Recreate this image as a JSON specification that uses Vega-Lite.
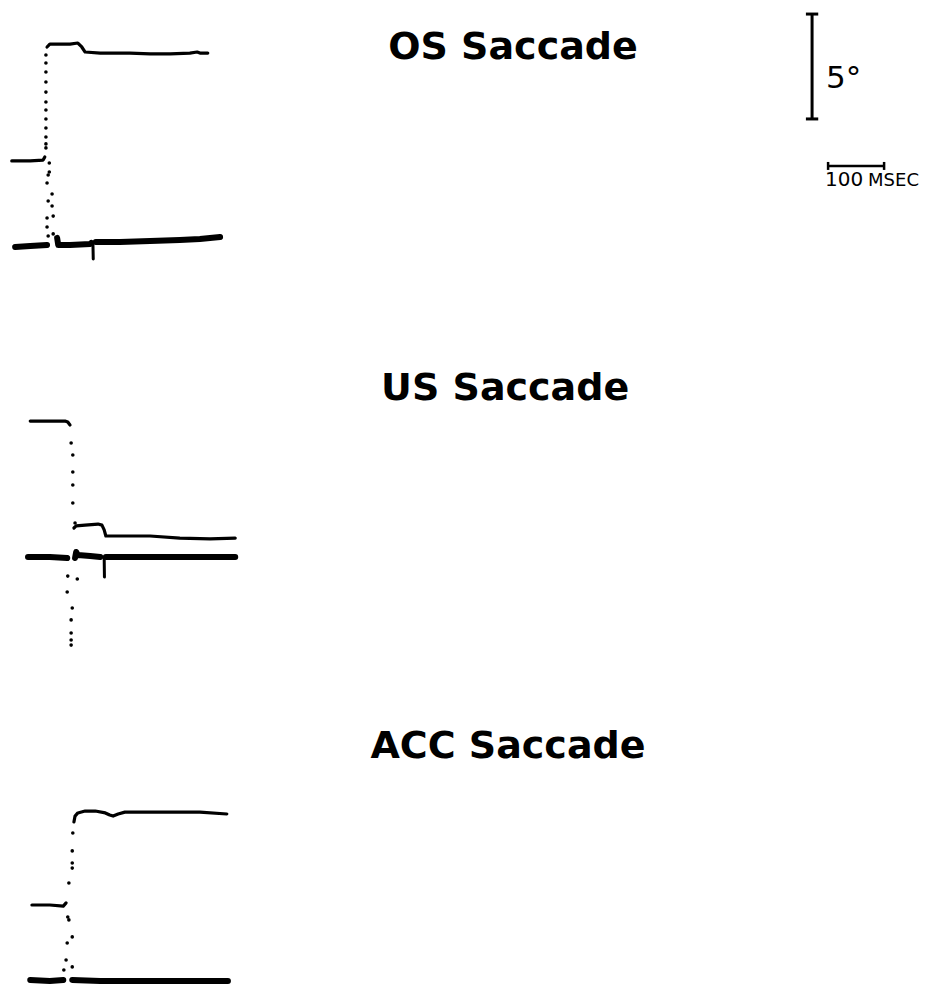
{
  "$schema": "https://vega.github.io/schema/vega-lite/v6.json",
  "width": 942,
  "height": 986,
  "autosize": {"type": "none"},
  "padding": 0,
  "background": "white",
  "config": {"view": {"stroke": null}},
  "datasets": {
    "traces": [
      {"kind": "upper", "seg": "os_u1", "t": 21, "deg": 39.33},
      {"kind": "upper", "seg": "os_u1", "t": 54, "deg": 39.33},
      {"kind": "upper", "seg": "os_u1", "t": 77, "deg": 39.37},
      {"kind": "upper", "seg": "os_u1", "t": 80, "deg": 39.52},
      {"kind": "upper", "seg": "os_u2", "t": 84, "deg": 44.76},
      {"kind": "upper", "seg": "os_u2", "t": 89, "deg": 44.90},
      {"kind": "upper", "seg": "os_u2", "t": 125, "deg": 44.90},
      {"kind": "upper", "seg": "os_u2", "t": 139, "deg": 44.95},
      {"kind": "upper", "seg": "os_u2", "t": 146, "deg": 44.76},
      {"kind": "upper", "seg": "os_u2", "t": 152, "deg": 44.52},
      {"kind": "upper", "seg": "os_u2", "t": 179, "deg": 44.47},
      {"kind": "upper", "seg": "os_u2", "t": 232, "deg": 44.47},
      {"kind": "upper", "seg": "os_u2", "t": 268, "deg": 44.43},
      {"kind": "upper", "seg": "os_u2", "t": 304, "deg": 44.43},
      {"kind": "upper", "seg": "os_u2", "t": 339, "deg": 44.47},
      {"kind": "upper", "seg": "os_u2", "t": 352, "deg": 44.52},
      {"kind": "upper", "seg": "os_u2", "t": 357, "deg": 44.47},
      {"kind": "upper", "seg": "os_u2", "t": 371, "deg": 44.47},
      {"kind": "lower", "seg": "os_l1", "t": 27, "deg": 35.23},
      {"kind": "lower", "seg": "os_l1", "t": 54, "deg": 35.27},
      {"kind": "lower", "seg": "os_l1", "t": 84, "deg": 35.32},
      {"kind": "lower", "seg": "os_l2", "t": 102, "deg": 35.66},
      {"kind": "lower", "seg": "os_l2", "t": 104, "deg": 35.32},
      {"kind": "lower", "seg": "os_l2", "t": 125, "deg": 35.32},
      {"kind": "lower", "seg": "os_l2", "t": 161, "deg": 35.37},
      {"kind": "lower", "seg": "os_l2", "t": 163, "deg": 35.42},
      {"kind": "spike", "seg": "os_s1", "t": 166, "deg": 35.32},
      {"kind": "spike", "seg": "os_s1", "t": 166.5, "deg": 34.65},
      {"kind": "lower", "seg": "os_l3", "t": 171, "deg": 35.46},
      {"kind": "lower", "seg": "os_l3", "t": 214, "deg": 35.46},
      {"kind": "lower", "seg": "os_l3", "t": 268, "deg": 35.51},
      {"kind": "lower", "seg": "os_l3", "t": 321, "deg": 35.56},
      {"kind": "lower", "seg": "os_l3", "t": 357, "deg": 35.61},
      {"kind": "lower", "seg": "os_l3", "t": 393, "deg": 35.70},
      {"kind": "upper", "seg": "us_u1", "t": 54, "deg": 26.93},
      {"kind": "upper", "seg": "us_u1", "t": 89, "deg": 26.93},
      {"kind": "upper", "seg": "us_u1", "t": 116, "deg": 26.93},
      {"kind": "upper", "seg": "us_u1", "t": 121, "deg": 26.88},
      {"kind": "upper", "seg": "us_u1", "t": 125, "deg": 26.74},
      {"kind": "upper", "seg": "us_u2", "t": 132, "deg": 21.83},
      {"kind": "upper", "seg": "us_u2", "t": 136, "deg": 21.93},
      {"kind": "upper", "seg": "us_u2", "t": 152, "deg": 21.97},
      {"kind": "upper", "seg": "us_u2", "t": 175, "deg": 22.02},
      {"kind": "upper", "seg": "us_u2", "t": 182, "deg": 21.97},
      {"kind": "upper", "seg": "us_u2", "t": 186, "deg": 21.74},
      {"kind": "upper", "seg": "us_u2", "t": 189, "deg": 21.45},
      {"kind": "upper", "seg": "us_u2", "t": 232, "deg": 21.45},
      {"kind": "upper", "seg": "us_u2", "t": 268, "deg": 21.45},
      {"kind": "upper", "seg": "us_u2", "t": 321, "deg": 21.35},
      {"kind": "upper", "seg": "us_u2", "t": 375, "deg": 21.31},
      {"kind": "upper", "seg": "us_u2", "t": 420, "deg": 21.35},
      {"kind": "lower", "seg": "us_l1", "t": 50, "deg": 20.45},
      {"kind": "lower", "seg": "us_l1", "t": 89, "deg": 20.45},
      {"kind": "lower", "seg": "us_l1", "t": 120, "deg": 20.40},
      {"kind": "lower", "seg": "us_l2", "t": 134, "deg": 20.40},
      {"kind": "lower", "seg": "us_l2", "t": 136, "deg": 20.69},
      {"kind": "lower", "seg": "us_l2", "t": 139, "deg": 20.54},
      {"kind": "lower", "seg": "us_l2", "t": 161, "deg": 20.50},
      {"kind": "lower", "seg": "us_l2", "t": 179, "deg": 20.45},
      {"kind": "spike", "seg": "us_s1", "t": 186, "deg": 20.45},
      {"kind": "spike", "seg": "us_s1", "t": 186.5, "deg": 19.50},
      {"kind": "lower", "seg": "us_l3", "t": 189, "deg": 20.45},
      {"kind": "lower", "seg": "us_l3", "t": 268, "deg": 20.45},
      {"kind": "lower", "seg": "us_l3", "t": 357, "deg": 20.45},
      {"kind": "lower", "seg": "us_l3", "t": 420, "deg": 20.45},
      {"kind": "upper", "seg": "acc_u1", "t": 57, "deg": 3.86},
      {"kind": "upper", "seg": "acc_u1", "t": 89, "deg": 3.86},
      {"kind": "upper", "seg": "acc_u1", "t": 113, "deg": 3.81},
      {"kind": "upper", "seg": "acc_u1", "t": 118, "deg": 3.96},
      {"kind": "upper", "seg": "acc_u2", "t": 132, "deg": 7.82},
      {"kind": "upper", "seg": "acc_u2", "t": 134, "deg": 8.10},
      {"kind": "upper", "seg": "acc_u2", "t": 139, "deg": 8.25},
      {"kind": "upper", "seg": "acc_u2", "t": 152, "deg": 8.34},
      {"kind": "upper", "seg": "acc_u2", "t": 170, "deg": 8.34},
      {"kind": "upper", "seg": "acc_u2", "t": 188, "deg": 8.25},
      {"kind": "upper", "seg": "acc_u2", "t": 196, "deg": 8.15},
      {"kind": "upper", "seg": "acc_u2", "t": 202, "deg": 8.10},
      {"kind": "upper", "seg": "acc_u2", "t": 211, "deg": 8.20},
      {"kind": "upper", "seg": "acc_u2", "t": 223, "deg": 8.29},
      {"kind": "upper", "seg": "acc_u2", "t": 268, "deg": 8.29},
      {"kind": "upper", "seg": "acc_u2", "t": 321, "deg": 8.29},
      {"kind": "upper", "seg": "acc_u2", "t": 357, "deg": 8.29},
      {"kind": "upper", "seg": "acc_u2", "t": 405, "deg": 8.20},
      {"kind": "lower", "seg": "acc_l1", "t": 54, "deg": 0.29},
      {"kind": "lower", "seg": "acc_l1", "t": 89, "deg": 0.24},
      {"kind": "lower", "seg": "acc_l1", "t": 113, "deg": 0.29},
      {"kind": "lower", "seg": "acc_l2", "t": 129, "deg": 0.29},
      {"kind": "lower", "seg": "acc_l2", "t": 179, "deg": 0.24},
      {"kind": "lower", "seg": "acc_l2", "t": 268, "deg": 0.24},
      {"kind": "lower", "seg": "acc_l2", "t": 407, "deg": 0.24}
    ],
    "dots": [
      {"panel": "OS", "t": 82, "deg": 44.38},
      {"panel": "OS", "t": 82, "deg": 44.00},
      {"panel": "OS", "t": 82, "deg": 43.57},
      {"panel": "OS", "t": 82, "deg": 43.09},
      {"panel": "OS", "t": 82, "deg": 42.61},
      {"panel": "OS", "t": 82, "deg": 42.14},
      {"panel": "OS", "t": 82, "deg": 41.76},
      {"panel": "OS", "t": 82, "deg": 41.33},
      {"panel": "OS", "t": 82, "deg": 40.90},
      {"panel": "OS", "t": 82, "deg": 40.47},
      {"panel": "OS", "t": 82, "deg": 40.14},
      {"panel": "OS", "t": 82, "deg": 39.95},
      {"panel": "OS", "t": 88, "deg": 39.23},
      {"panel": "OS", "t": 88, "deg": 38.80},
      {"panel": "OS", "t": 86, "deg": 38.66},
      {"panel": "OS", "t": 84, "deg": 38.28},
      {"panel": "OS", "t": 93, "deg": 37.75},
      {"panel": "OS", "t": 86, "deg": 37.42},
      {"panel": "OS", "t": 93, "deg": 37.18},
      {"panel": "OS", "t": 95, "deg": 36.70},
      {"panel": "OS", "t": 84, "deg": 36.61},
      {"panel": "OS", "t": 84, "deg": 36.18},
      {"panel": "OS", "t": 95, "deg": 35.85},
      {"panel": "OS", "t": 86, "deg": 35.75},
      {"panel": "US", "t": 127, "deg": 25.88},
      {"panel": "US", "t": 130, "deg": 25.31},
      {"panel": "US", "t": 130, "deg": 24.50},
      {"panel": "US", "t": 130, "deg": 23.88},
      {"panel": "US", "t": 130, "deg": 23.02},
      {"panel": "US", "t": 134, "deg": 22.07},
      {"panel": "US", "t": 121, "deg": 19.54},
      {"panel": "US", "t": 138, "deg": 19.40},
      {"panel": "US", "t": 120, "deg": 18.78},
      {"panel": "US", "t": 129, "deg": 18.02},
      {"panel": "US", "t": 127, "deg": 17.45},
      {"panel": "US", "t": 127, "deg": 16.83},
      {"panel": "US", "t": 127, "deg": 16.49},
      {"panel": "US", "t": 127, "deg": 16.25},
      {"panel": "ACC", "t": 130, "deg": 7.29},
      {"panel": "ACC", "t": 129, "deg": 6.44},
      {"panel": "ACC", "t": 129, "deg": 5.86},
      {"panel": "ACC", "t": 129, "deg": 5.62},
      {"panel": "ACC", "t": 123, "deg": 4.91},
      {"panel": "ACC", "t": 121, "deg": 3.29},
      {"panel": "ACC", "t": 123, "deg": 3.15},
      {"panel": "ACC", "t": 129, "deg": 2.34},
      {"panel": "ACC", "t": 120, "deg": 2.05},
      {"panel": "ACC", "t": 118, "deg": 1.24},
      {"panel": "ACC", "t": 129, "deg": 0.91},
      {"panel": "ACC", "t": 114, "deg": 0.76}
    ],
    "scalebar": [
      {"part": "deg", "t": 1450, "deg": 46.33, "t2": 1450, "deg2": 41.33},
      {"part": "deg", "t": 1439, "deg": 46.33, "t2": 1461, "deg2": 46.33},
      {"part": "deg", "t": 1439, "deg": 41.33, "t2": 1461, "deg2": 41.33},
      {"part": "time", "t": 1478.6, "deg": 39.09, "t2": 1578.6, "deg2": 39.09},
      {"part": "time", "t": 1478.6, "deg": 39.28, "t2": 1478.6, "deg2": 38.90},
      {"part": "time", "t": 1578.6, "deg": 39.28, "t2": 1578.6, "deg2": 38.90}
    ],
    "labels": [
      {"role": "title", "text": "OS Saccade", "t": 916, "deg": 44.19},
      {"role": "title", "text": "US Saccade", "t": 902, "deg": 27.93},
      {"role": "title", "text": "ACC Saccade", "t": 907, "deg": 10.87},
      {"role": "deg", "text": "5°", "t": 1475, "deg": 42.81},
      {"role": "ms", "text": "100", "t": 1473, "deg": 38.13},
      {"role": "unit", "text": "MSEC", "t": 1550, "deg": 38.13}
    ]
  },
  "encoding": {
    "x": {"field": "t", "type": "quantitative", "scale": {"domain": [0, 1682], "nice": false, "zero": false}, "axis": null},
    "y": {"field": "deg", "type": "quantitative", "scale": {"domain": [0, 47], "nice": false, "zero": false}, "axis": null}
  },
  "layer": [
    {
      "data": {"name": "traces"},
      "transform": [{"filter": "datum.kind === 'upper'"}],
      "mark": {"type": "line", "color": "black", "strokeWidth": 3.2, "strokeCap": "round", "strokeJoin": "round"},
      "encoding": {"detail": {"field": "seg"}}
    },
    {
      "data": {"name": "traces"},
      "transform": [{"filter": "datum.kind === 'lower'"}],
      "mark": {"type": "line", "color": "black", "strokeWidth": 6, "strokeCap": "round", "strokeJoin": "round"},
      "encoding": {"detail": {"field": "seg"}}
    },
    {
      "data": {"name": "traces"},
      "transform": [{"filter": "datum.kind === 'spike'"}],
      "mark": {"type": "line", "color": "black", "strokeWidth": 3, "strokeCap": "round"},
      "encoding": {"detail": {"field": "seg"}}
    },
    {
      "data": {"name": "dots"},
      "mark": {"type": "circle", "color": "black", "opacity": 1, "size": 13},
      "encoding": {}
    },
    {
      "data": {"name": "scalebar"},
      "transform": [{"filter": "datum.part === 'deg'"}],
      "mark": {"type": "rule", "color": "black", "strokeWidth": 3},
      "encoding": {"x2": {"field": "t2"}, "y2": {"field": "deg2"}}
    },
    {
      "data": {"name": "scalebar"},
      "transform": [{"filter": "datum.part === 'time'"}],
      "mark": {"type": "rule", "color": "black", "strokeWidth": 2.5},
      "encoding": {"x2": {"field": "t2"}, "y2": {"field": "deg2"}}
    },
    {
      "data": {"name": "labels"},
      "transform": [{"filter": "datum.role === 'title'"}],
      "mark": {"type": "text", "font": "DejaVu Sans", "fontWeight": "bold", "fontSize": 38, "align": "center", "baseline": "alphabetic", "color": "black"},
      "encoding": {"text": {"field": "text"}}
    },
    {
      "data": {"name": "labels"},
      "transform": [{"filter": "datum.role === 'deg'"}],
      "mark": {"type": "text", "font": "DejaVu Sans", "fontSize": 31, "align": "left", "baseline": "alphabetic", "color": "black"},
      "encoding": {"text": {"field": "text"}}
    },
    {
      "data": {"name": "labels"},
      "transform": [{"filter": "datum.role === 'ms'"}],
      "mark": {"type": "text", "font": "DejaVu Sans", "fontSize": 20, "align": "left", "baseline": "alphabetic", "color": "black"},
      "encoding": {"text": {"field": "text"}}
    },
    {
      "data": {"name": "labels"},
      "transform": [{"filter": "datum.role === 'unit'"}],
      "mark": {"type": "text", "font": "DejaVu Sans", "fontSize": 18, "align": "left", "baseline": "alphabetic", "color": "black"},
      "encoding": {"text": {"field": "text"}}
    }
  ]
}
